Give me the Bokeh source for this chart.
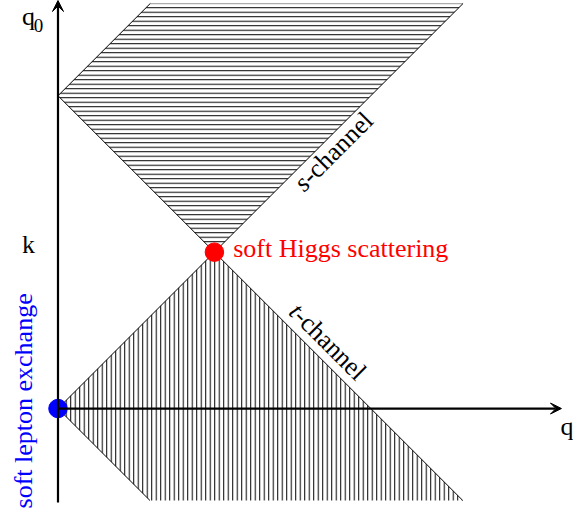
import math
from bokeh.plotting import figure
from bokeh.models import Range1d, Arrow, VeeHead
from bokeh.core.properties import value
from bokeh.embed import file_html
from bokeh.resources import INLINE

# ---- data (units of k) ----
k = 1.0
q0_top = 2.59          # upper cut of the s-channel region
q0_bottom = -0.588     # lower cut of the t-channel region
q_axis_end = 3.219
q0_axis_end = 2.609
q0_axis_start = -0.601

# s-channel region: max(2k-q, q) <= q0 <= q+2k
s_q = [0.0, k, q0_top, q0_top - 2 * k]
s_q0 = [2 * k, k, q0_top, q0_top]
# t-channel region: -q <= q0 <= min(q, 2k-q)
t_q = [0.0, k, 2 * k - q0_bottom, -q0_bottom]
t_q0 = [0.0, k, q0_bottom, q0_bottom]

# boundary light-cone lines
b_q_start = [0.0, 0.0, 0.0, 0.0]
b_q0_start = [2 * k, 0.0, 0.0, 2 * k]
b_q_end = [2 * k - q0_bottom, q0_top, -q0_bottom, q0_top - 2 * k]
b_q0_end = [q0_bottom, q0_top, q0_bottom, q0_top]

FONT = value("Liberation Serif")

p = figure(width=573, height=510,
           x_range=Range1d(-0.3676, 3.296), y_range=Range1d(-0.652, 2.609),
           output_backend="svg", toolbar_location=None,
           x_axis_location=None, y_axis_location=None, min_border=0)
p.grid.visible = False
p.outline_line_color = None
p.background_fill_color = "white"
p.border_fill_color = "white"

p.patch(s_q, s_q0, fill_color=None, line_color=None,
        hatch_pattern="horizontal_line", hatch_scale=4.5, hatch_weight=1,
        hatch_color="black")
p.patch(t_q, t_q0, fill_color=None, line_color=None,
        hatch_pattern="vertical_line", hatch_scale=4.5, hatch_weight=1,
        hatch_color="black")

p.segment(b_q_start, b_q0_start, b_q_end, b_q0_end, line_color="black", line_width=1)

# axes with arrows
p.add_layout(Arrow(end=VeeHead(size=11, fill_color="black", line_color="black"),
                   x_start=0, y_start=0, x_end=q_axis_end, y_end=0,
                   line_width=2.2, line_color="black"))
p.add_layout(Arrow(end=VeeHead(size=11, fill_color="black", line_color="black"),
                   x_start=0, y_start=q0_axis_start, x_end=0, y_end=q0_axis_end,
                   line_width=2.2, line_color="black"))

# special points
p.scatter([k], [k], size=18.5, color="#ff0000")
p.scatter([0.0], [0.0], size=18.5, color="#0000ff")

# labels
p.text([-0.23], [2.506], text=["q"], text_font=FONT, text_font_size="26px",
       text_baseline="alphabetic", text_align="left", text_color="black")
p.text([-0.155], [2.449], text=["0"], text_font=FONT, text_font_size="19px",
       text_baseline="alphabetic", text_align="left", text_color="black")
p.text([-0.23], [1.048], text=["k"], text_font=FONT, text_font_size="26px",
       text_baseline="alphabetic", text_align="left", text_color="black")
p.text([3.213], [-0.115], text=["q"], text_font=FONT, text_font_size="26px",
       text_baseline="alphabetic", text_align="left", text_color="black")

p.text([1.12], [1.023], text=["soft Higgs scattering"], text_font=FONT,
       text_font_size="26px", text_baseline="alphabetic", text_align="left",
       text_color="#ff0000")
p.text([-0.219], [-0.639], text=["soft lepton exchange"], text_font=FONT,
       text_font_size="26px", text_baseline="alphabetic", text_align="left",
       text_color="#0000ff", angle=math.pi / 2)

# s-channel (italic s)
p.text([1.582], [1.464], text=["s"], text_font=FONT, text_font_size="26px",
       text_font_style="italic", text_baseline="alphabetic", text_align="right",
       angle=math.pi / 4, text_color="black")
p.text([1.582], [1.464], text=["-channel"], text_font=FONT, text_font_size="26px",
       text_baseline="alphabetic", text_align="left",
       angle=math.pi / 4, text_color="black")
# t-channel (italic t)
p.text([1.538], [0.614], text=["t"], text_font=FONT, text_font_size="26px",
       text_font_style="italic", text_baseline="alphabetic", text_align="right",
       angle=-math.pi / 4, text_color="black")
p.text([1.538], [0.614], text=["-channel"], text_font=FONT, text_font_size="26px",
       text_baseline="alphabetic", text_align="left",
       angle=-math.pi / 4, text_color="black")

open("out.html", "w").write(file_html(p, INLINE))
